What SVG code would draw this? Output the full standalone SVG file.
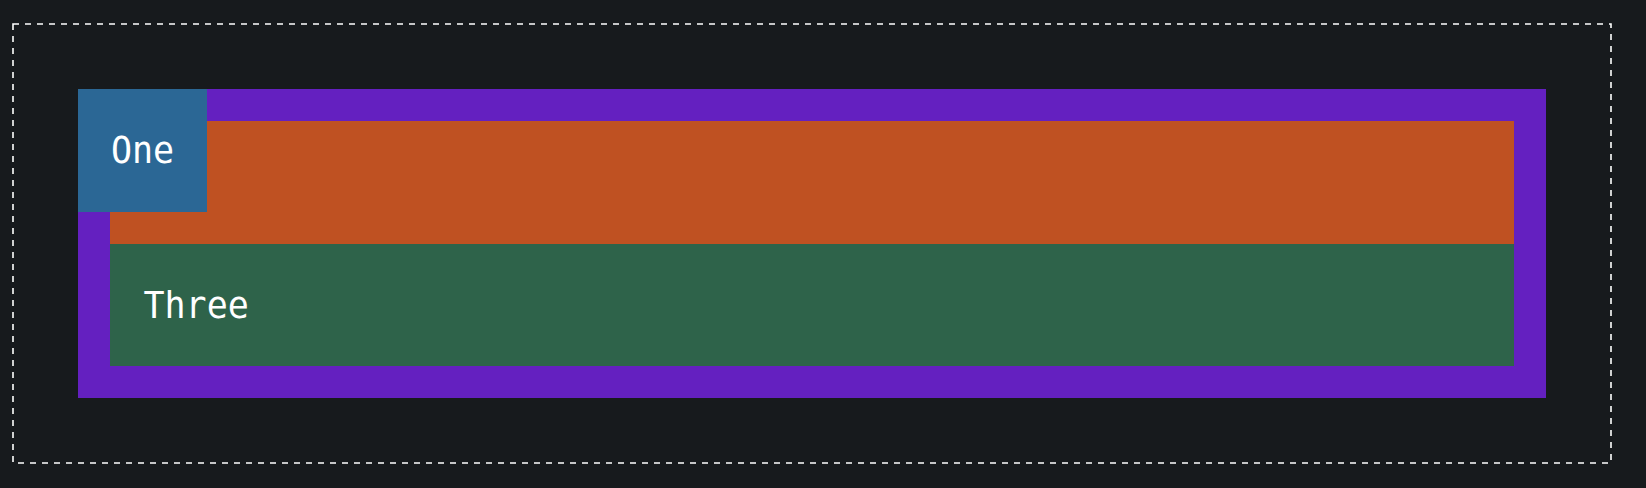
<svg xmlns="http://www.w3.org/2000/svg" width="1646" height="488" viewBox="0 0 1646 488">
<style>
.lbl{font-family:"DejaVu Sans Mono","Liberation Mono",monospace;font-size:35px;fill:#ffffff}
</style>
<rect x="0" y="0" width="1646" height="488" fill="#171a1d"/>
<rect x="13" y="24" width="1598" height="439" fill="none" stroke="#ffffff" stroke-width="1.6" stroke-dasharray="6 6"/>
<g id="container">
<rect x="78" y="89" width="1468" height="309" fill="#6420c0"/>
</g>
<g id="two">
<rect x="110" y="121" width="1404" height="123" fill="#bf5122"/>
</g>
<g id="three">
<rect x="110" y="244" width="1404" height="122" fill="#2e634a"/>
<text class="lbl" x="143.5" y="318" transform="translate(0,318) scale(1,1.08) translate(0,-318)">Three</text>
</g>
<g id="one">
<rect x="78" y="89" width="129" height="123" fill="#2b6795"/>
<text class="lbl" x="142.5" y="163" text-anchor="middle" transform="translate(0,163) scale(1,1.08) translate(0,-163)">One</text>
</g>
<g id="connectors"></g>
</svg>
